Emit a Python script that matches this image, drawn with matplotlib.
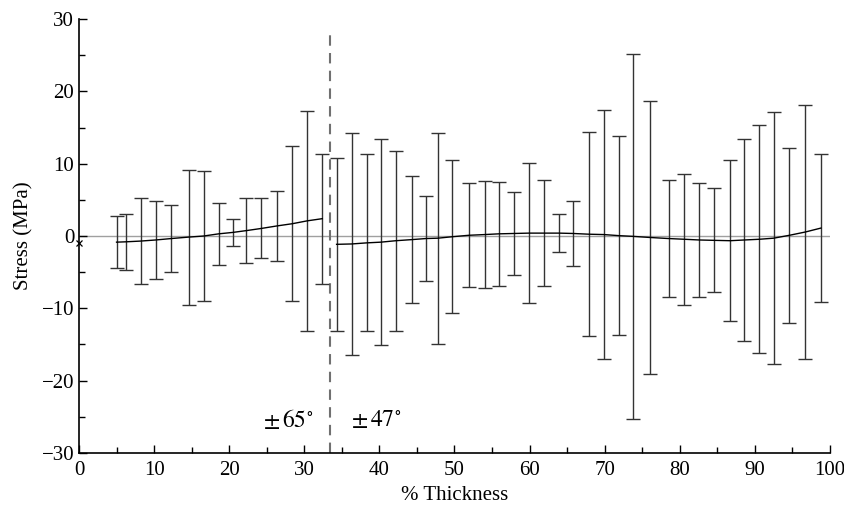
import matplotlib
matplotlib.use("Agg")
import numpy as np
import matplotlib.pyplot as plt

plt.rcParams['font.family'] = ['Liberation Serif', 'DejaVu Serif']
plt.rcParams['mathtext.fontset'] = 'stix'

# +-65 deg plies (inner part of the wall)
x_inner = [5.0, 6.3, 8.2, 10.2, 12.3, 14.6, 16.6, 18.6, 20.5, 22.3, 24.3, 26.4, 28.4, 30.4, 32.4]
top_inner = [2.7, 3.1, 5.2, 4.8, 4.3, 9.2, 9.0, 4.6, 2.4, 5.3, 5.2, 6.2, 12.4, 17.3, 11.4]
bot_inner = [-4.4, -4.7, -6.6, -5.9, -5.0, -9.5, -9.0, -4.0, -1.4, -3.8, -3.1, -3.4, -9.0, -13.1, -6.6]

# +-47 deg plies (outer part)
x_outer = [34.3, 36.3, 38.3, 40.2, 42.2, 44.3, 46.2, 47.8, 49.7, 51.9, 54.0, 55.9, 57.9,
           59.9, 61.9, 63.9, 65.8, 67.9, 69.9, 71.9, 73.8, 76.0, 78.5, 80.6, 82.6, 84.6,
           86.7, 88.6, 90.6, 92.5, 94.6, 96.7, 98.8]
top_outer = [10.8, 14.2, 11.3, 13.4, 11.8, 8.3, 5.5, 14.3, 10.5, 7.3, 7.6, 7.5, 6.1,
             10.1, 7.7, 3.0, 4.8, 14.4, 17.4, 13.8, 25.2, 18.7, 7.8, 8.6, 7.3, 6.6,
             10.5, 13.4, 15.3, 17.1, 12.2, 18.1, 11.3]
bot_outer = [-13.1, -16.4, -13.2, -15.1, -13.1, -9.3, -6.2, -14.9, -10.7, -7.1, -7.2, -6.9, -5.4,
             -9.3, -6.9, -2.2, -4.1, -13.9, -17.0, -13.7, -25.3, -19.1, -8.5, -9.5, -8.4, -7.8,
             -11.8, -14.5, -16.2, -17.7, -12.0, -17.0, -9.1]

surface_x = [0.0]
surface_y = [-1.0]
boundary = 33.4

fig = plt.figure(figsize=(8.44, 5.17), dpi=100)
ax = fig.add_axes([0.0936, 0.124, 0.8898, 0.839])

ax.axhline(0, color='#a0a0a0', lw=1.0, zorder=1)
ax.axvline(boundary, ymax=0.977, color='#707070', lw=1.5, ls=(0, (5, 3.5)), zorder=2)

for xs, tops, bots in [(x_inner, top_inner, bot_inner), (x_outer, top_outer, bot_outer)]:
    xs = np.array(xs)
    tops = np.array(tops)
    bots = np.array(bots)
    mid = (tops + bots) / 2
    ax.errorbar(xs, mid, yerr=[mid - bots, tops - mid], fmt='none', ecolor='#333333',
                elinewidth=1.0, capsize=5, capthick=1.0, zorder=3)
    ax.plot(xs, mid, color='black', lw=1.0, zorder=4)

ax.plot(surface_x, surface_y, 'x', color='black', ms=5, mew=0.9, clip_on=False, zorder=5)

ax.text(27.8, -25.4, r'$\pm\,65^{\circ}$', ha='center', va='center', fontsize=17)
ax.text(39.6, -25.4, r'$\pm\,47^{\circ}$', ha='center', va='center', fontsize=17)

ax.set_xlim(0, 100)
ax.set_ylim(-30, 30)
ax.set_xticks(np.arange(0, 101, 10))
ax.set_xticks(np.arange(0, 101, 5), minor=True)
ax.set_yticks(np.arange(-30, 31, 10))
ax.set_yticks(np.arange(-30, 31, 5), minor=True)
ax.set_yticklabels(['\u221230', '\u221220', '\u221210', '0', '10', '20', '30'])
ax.tick_params(which='both', direction='in', labelsize=15, width=1.0)
ax.tick_params(which='major', length=6)
ax.tick_params(which='minor', length=4)
ax.tick_params(axis='x', pad=6)
for s in ['top', 'right']:
    ax.spines[s].set_visible(False)
for s in ['left', 'bottom']:
    ax.spines[s].set_linewidth(1.2)

ax.set_xlabel('% Thickness', fontsize=15, labelpad=4)
ax.set_ylabel('Stress (MPa)', fontsize=15, labelpad=6)

fig.savefig('out.png', dpi=100)
